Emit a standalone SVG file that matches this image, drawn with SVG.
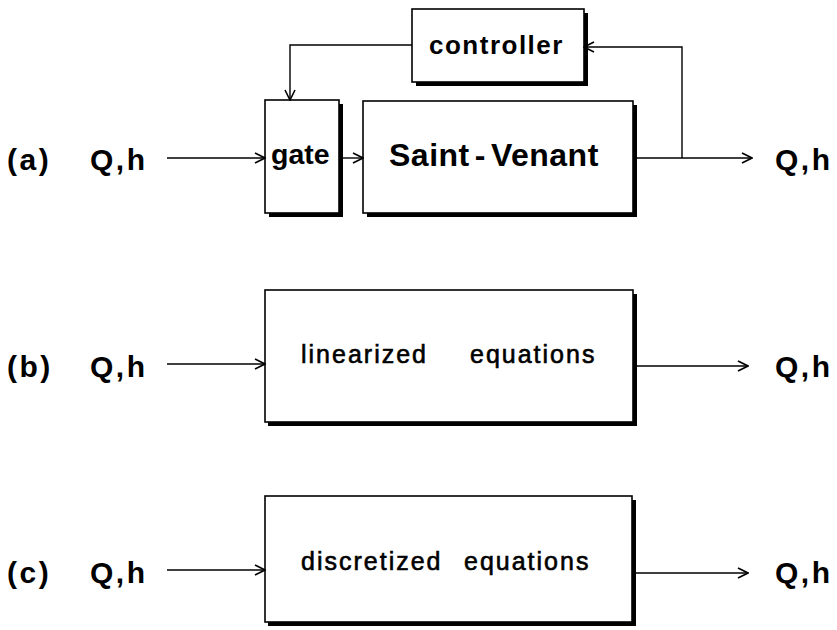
<svg xmlns="http://www.w3.org/2000/svg" width="837" height="630" viewBox="0 0 837 630">
<defs>
<style>
.box{fill:#fff;stroke:#000;stroke-width:1.6}
.sh{fill:#000}
.ln{fill:none;stroke:#000;stroke-width:1.4}
.lab{font-family:"Liberation Sans",Arial,sans-serif;font-weight:bold;font-size:30px;letter-spacing:2.5px;fill:#000}
.t{font-family:"Liberation Sans",Arial,sans-serif;font-weight:bold;fill:#000}
.eq{font-family:"Liberation Sans",Arial,sans-serif;font-size:25px;letter-spacing:2px;fill:#000;stroke:#000;stroke-width:0.6}
</style>
<marker id="ah" viewBox="0 0 12 12" refX="11" refY="6" markerWidth="12" markerHeight="12" markerUnits="userSpaceOnUse" orient="auto">
<path d="M1,1 L11,6 L1,11" fill="none" stroke="#000" stroke-width="1.6"/>
</marker>
</defs>
<rect width="837" height="630" fill="#fff"/>

<g id="labels">
<text class="lab" x="7" y="170">(a)</text>
<text class="lab" x="90" y="170">Q,h</text>
<text class="lab" x="775" y="170">Q,h</text>
<text class="lab" x="7" y="377">(b)</text>
<text class="lab" x="90" y="377">Q,h</text>
<text class="lab" x="775" y="377">Q,h</text>
<text class="lab" x="7" y="583">(c)</text>
<text class="lab" x="90" y="583">Q,h</text>
<text class="lab" x="775" y="583">Q,h</text>
</g>

<g id="controller">
<rect class="sh" x="416" y="13" width="172" height="73"/>
<rect class="box" x="412" y="9" width="172" height="73"/>
<text class="t" x="429" y="54" font-size="26" letter-spacing="1.5">controller</text>
</g>

<g id="gate">
<rect class="sh" x="269" y="104" width="74" height="113"/>
<rect class="box" x="265" y="100" width="74" height="113"/>
<text class="t" x="271" y="164" font-size="28.5">gate</text>
</g>

<g id="saint-venant">
<rect class="sh" x="367" y="105" width="270" height="112"/>
<rect class="box" x="363" y="101" width="270" height="112"/>
<text class="t" x="389" y="166" font-size="32" letter-spacing="0.5">Saint<tspan dx="5">-</tspan><tspan dx="5">Venant</tspan></text>
</g>

<g id="linearized">
<rect class="sh" x="268" y="294" width="369" height="132"/>
<rect class="box" x="265" y="290" width="368" height="132"/>
<text class="eq" x="301" y="363">linearized <tspan x="470">equations</tspan></text>
</g>

<g id="discretized">
<rect class="sh" x="268" y="500" width="368" height="126"/>
<rect class="box" x="265" y="496" width="367" height="126"/>
<text class="eq" x="301" y="570">discretized <tspan x="464">equations</tspan></text>
</g>

<g id="connectors">
<line class="ln" x1="167" y1="158" x2="265" y2="158" marker-end="url(#ah)"/>
<line class="ln" x1="339" y1="158" x2="363" y2="158" marker-end="url(#ah)"/>
<line class="ln" x1="633" y1="158" x2="752" y2="158" marker-end="url(#ah)"/>
<polyline class="ln" points="682,158 682,47 584,47" marker-end="url(#ah)"/>
<polyline class="ln" points="412,45 290,45 290,100" marker-end="url(#ah)"/>
<line class="ln" x1="167" y1="364" x2="265" y2="364" marker-end="url(#ah)"/>
<line class="ln" x1="633" y1="366" x2="748" y2="366" marker-end="url(#ah)"/>
<line class="ln" x1="167" y1="570" x2="265" y2="570" marker-end="url(#ah)"/>
<line class="ln" x1="632" y1="573" x2="748" y2="573" marker-end="url(#ah)"/>
</g>
</svg>
